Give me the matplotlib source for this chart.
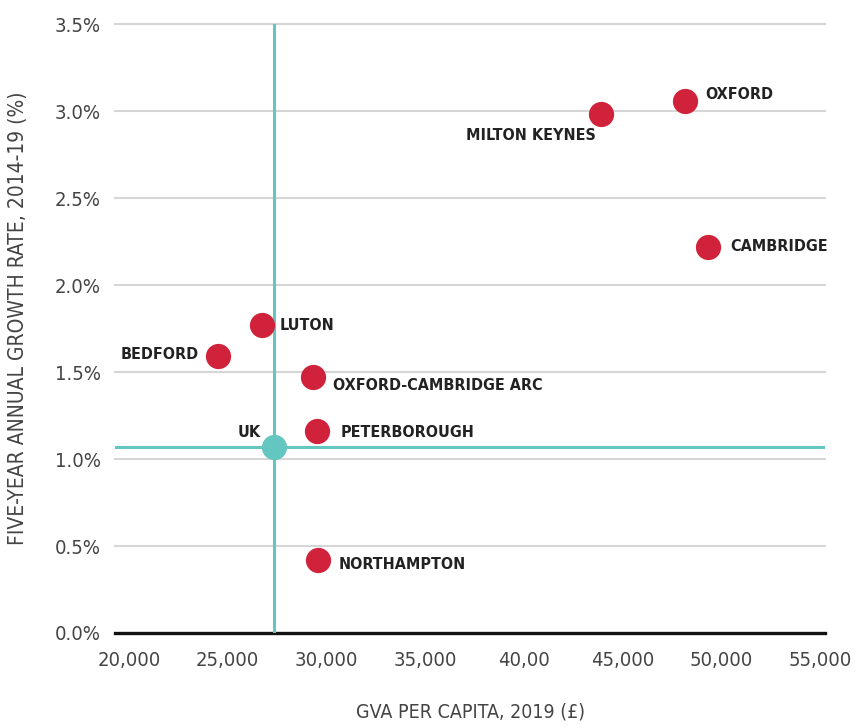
import matplotlib
matplotlib.use("Agg")
from matplotlib import pyplot as plt

# data
places = ["OXFORD", "MILTON KEYNES", "CAMBRIDGE", "LUTON", "BEDFORD",
          "OXFORD-CAMBRIDGE ARC", "PETERBOROUGH", "NORTHAMPTON"]
gva = [48170, 43910, 49330, 26740, 24510, 29320, 29520, 29580]
growth = [3.06, 2.98, 2.22, 1.77, 1.59, 1.47, 1.16, 0.42]

uk_gva = 27350
uk_growth = 1.07

x_ticks = [20000, 25000, 30000, 35000, 40000, 45000, 50000, 55000]
x_tick_labels = ["20,000", "25,000", "30,000", "35,000", "40,00",
                 "45,000", "50,000", "55,000"]
y_ticks = [0.0, 0.5, 1.0, 1.5, 2.0, 2.5, 3.0, 3.5]

# label offsets in pixels (dx, dy, ha)
label_pos = {
    "OXFORD": (20, 6, "left"),
    "MILTON KEYNES": (-5, -21, "right"),
    "CAMBRIDGE": (22, 0, "left"),
    "LUTON": (18, 0, "left"),
    "BEDFORD": (-19, 2, "right"),
    "OXFORD-CAMBRIDGE ARC": (20, -8, "left"),
    "PETERBOROUGH": (24, -1, "left"),
    "NORTHAMPTON": (20, -5, "left"),
}

plt.rcParams["font.family"] = ["DejaVu Sans"]
plt.rcParams["font.stretch"] = "condensed"

RED = "#d0223a"
TEAL = "#64c6c1"
GRID = "#d6d6d6"
TEXT = "#444444"

fig = plt.figure(figsize=(8.57, 7.28), dpi=100)
ax = fig.add_axes([0.134, 0.1305, 0.829, 0.8365])
ax.set_xlim(19290, 55250)
ax.set_ylim(0, 3.5)

for y in y_ticks[1:]:
    ax.axhline(y, color=GRID, lw=1.5, zorder=1, clip_on=False)
ax.axhline(0, color="#111111", lw=2.4, zorder=2, clip_on=False)

ax.axvline(uk_gva, color=TEAL, lw=2.2, zorder=2)
ax.axhline(uk_growth, color=TEAL, lw=2.2, zorder=2)

ax.scatter(gva, growth, s=330, color=RED, zorder=4, clip_on=False, linewidths=0)
ax.scatter([uk_gva], [uk_growth], s=330, color=TEAL, zorder=4, linewidths=0)

for name, x, y in zip(places, gva, growth):
    dx, dy, ha = label_pos[name]
    ax.annotate(name, (x, y), xytext=(dx * 0.72, dy * 0.72),
                textcoords="offset points", ha=ha, va="center",
                fontsize=11.5, fontweight="bold", color="#222222")
ax.annotate("UK", (uk_gva, uk_growth), xytext=(-13 * 0.72, 14 * 0.72),
            textcoords="offset points", ha="right", va="center",
            fontsize=11.5, fontweight="bold", color="#222222")

ax.set_xticks(x_ticks)
ax.set_xticklabels(x_tick_labels)
ax.set_yticks(y_ticks)
ax.set_yticklabels([f"{v:.1f}%" for v in y_ticks])
ax.tick_params(axis="both", length=0, labelsize=14.5, labelcolor=TEXT)
ax.tick_params(axis="x", pad=13)
ax.tick_params(axis="y", pad=10)

for side in ["top", "right", "left", "bottom"]:
    ax.spines[side].set_visible(False)

ax.set_xlabel("GVA PER CAPITA, 2019 (£)", fontsize=14, color=TEXT, va="center")
ax.xaxis.set_label_coords(0.5, -0.129)
ax.set_ylabel("FIVE-YEAR ANNUAL GROWTH RATE, 2014-19 (%)", fontsize=15,
              color=TEXT, va="center")
ax.yaxis.set_label_coords(-0.137, 0.517)

fig.savefig("out.png", dpi=100)
